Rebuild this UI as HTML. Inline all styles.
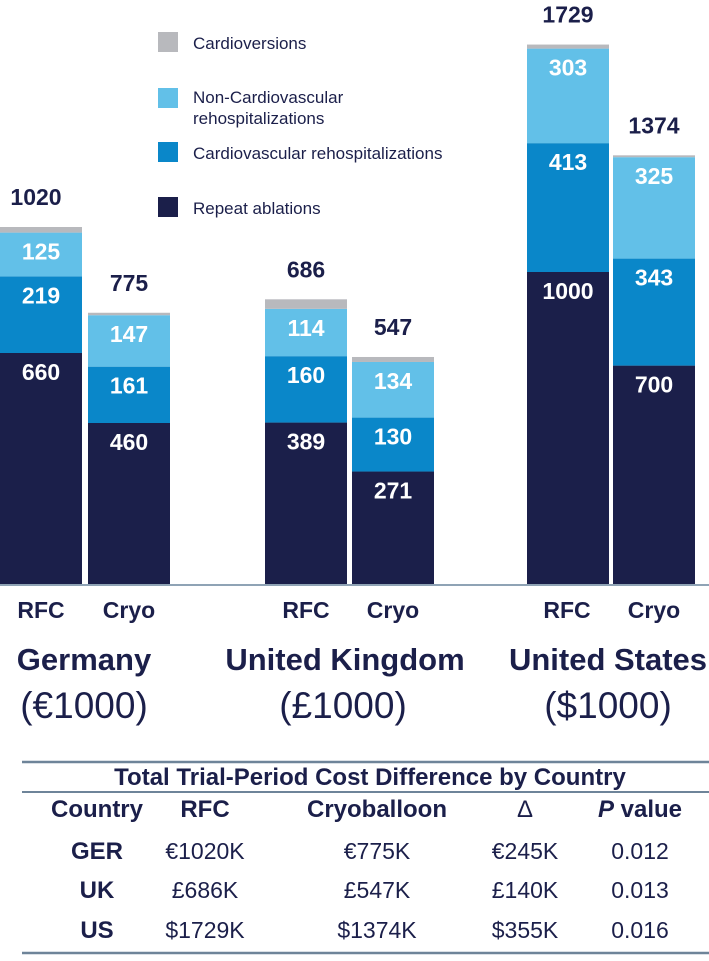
<!DOCTYPE html>
<html><head><meta charset="utf-8"><style>
body{margin:0;width:709px;height:956px;background:#fff;overflow:hidden;font-family:"Liberation Sans",sans-serif}
svg text{font-family:"Liberation Sans",sans-serif}
</style></head><body>
<svg id="c" width="709" height="956">
<g id="legend">
<rect x="158" y="32" width="20" height="20" fill="#b8b9bd"/>
<text x="193" y="49" font-size="17" fill="#1b1f4a">Cardioversions</text>
<rect x="158" y="88" width="20" height="20" fill="#62c0e8"/>
<text x="193" y="103" font-size="17" fill="#1b1f4a">Non-Cardiovascular</text>
<text x="193" y="124" font-size="17" fill="#1b1f4a">rehospitalizations</text>
<rect x="158" y="142" width="20" height="20" fill="#0a87c9"/>
<text x="193" y="159" font-size="17" fill="#1b1f4a">Cardiovascular rehospitalizations</text>
<rect x="158" y="197" width="20" height="20" fill="#1b1f4a"/>
<text x="193" y="214" font-size="17" fill="#1b1f4a">Repeat ablations</text>
</g>
<g id="bars"></g>
<line x1="0" y1="585" x2="709" y2="585" stroke="#8fa3b5" stroke-width="2"/>
<g font-weight="bold" font-size="23" fill="#1b1f4a" text-anchor="middle">
<text x="41" y="618">RFC</text>
<text x="129" y="618">Cryo</text>
<text x="306" y="618">RFC</text>
<text x="393" y="618">Cryo</text>
<text x="567" y="618">RFC</text>
<text x="654" y="618">Cryo</text>
</g>
<g font-weight="bold" font-size="31" fill="#1b1f4a" text-anchor="middle">
<text x="84" y="670">Germany</text>
<text x="345" y="670">United Kingdom</text>
<text x="608" y="670">United States</text>
</g>
<g font-size="37" fill="#1b1f4a" text-anchor="middle">
<text x="84" y="718">(€1000)</text>
<text x="343" y="718">(£1000)</text>
<text x="608" y="718">($1000)</text>
</g>
<g fill="#1b1f4a" text-anchor="middle" font-size="23">
<line x1="22" y1="762" x2="709" y2="762" stroke="#6e8499" stroke-width="2.5"/>
<text x="370" y="785" font-weight="bold" font-size="24">Total Trial-Period Cost Difference by Country</text>
<line x1="22" y1="792" x2="709" y2="792" stroke="#6e8499" stroke-width="2"/>
<g font-weight="bold" font-size="24">
<text x="97" y="817">Country</text>
<text x="205" y="817">RFC</text>
<text x="377" y="817">Cryoballoon</text>
<text x="525" y="817" font-weight="normal" font-family="Liberation Serif">Δ</text>
<text x="640" y="817"><tspan font-style="italic">P</tspan> value</text>
</g>
<text x="97" y="859" font-weight="bold" font-size="24">GER</text><text x="205" y="859">€1020K</text><text x="377" y="859">€775K</text><text x="525" y="859">€245K</text><text x="640" y="859">0.012</text>
<text x="97" y="898" font-weight="bold" font-size="24">UK</text><text x="205" y="898">£686K</text><text x="377" y="898">£547K</text><text x="525" y="898">£140K</text><text x="640" y="898">0.013</text>
<text x="97" y="938" font-weight="bold" font-size="24">US</text><text x="205" y="938">$1729K</text><text x="377" y="938">$1374K</text><text x="525" y="938">$355K</text><text x="640" y="938">0.016</text>
<line x1="22" y1="953" x2="709" y2="953" stroke="#6e8499" stroke-width="2.5"/>
</g>
</svg>
<script>
const categories = ["GER-RFC","GER-Cryo","UK-RFC","UK-Cryo","US-RFC","US-Cryo"];
const ablations = [660,460,389,271,1000,700];
const cvRehosp = [219,161,160,130,413,343];
const nonCvRehosp = [125,147,114,134,303,325];
const totals = [1020,775,686,547,1729,1374];
const countryOf = [0,0,1,1,2,2];
const countryScale = [0.35,0.415,0.312]; // px per unit per country panel
const barX = [0,88,265,352,527,613], barW = 82, base = 584;
const colors = ["#1b1f4a","#0a87c9","#62c0e8","#b8b9bd"];
const g = document.getElementById('bars');
const NS = "http://www.w3.org/2000/svg";
function y(v,i){return base - v*countryScale[countryOf[i]];}
categories.forEach((cat,i)=>{
  const cardio = totals[i]-ablations[i]-cvRehosp[i]-nonCvRehosp[i];
  const segs=[ablations[i],cvRehosp[i],nonCvRehosp[i],cardio];
  let cum=0;
  segs.forEach((v,k)=>{
    const r=document.createElementNS(NS,'rect');
    r.setAttribute('x',barX[i]);r.setAttribute('width',barW);
    r.setAttribute('y',y(cum+v,i));r.setAttribute('height',y(cum,i)-y(cum+v,i));
    r.setAttribute('fill',colors[k]);
    
    
    g.appendChild(r);
    if(k<3){
      const t=document.createElementNS(NS,'text');
      t.setAttribute('x',barX[i]+barW/2);t.setAttribute('y',y(cum+v,i)+27);
      t.setAttribute('text-anchor','middle');t.setAttribute('fill','#fff');
      t.setAttribute('font-weight','bold');t.setAttribute('font-size','23');
      t.textContent=v;
      
      
      g.appendChild(t);
    }
    cum+=v;
  });
  const t=document.createElementNS(NS,'text');
  t.setAttribute('x',barX[i]+barW/2 - (i===0?5:0));t.setAttribute('y',y(totals[i],i)-22);
  t.setAttribute('text-anchor','middle');t.setAttribute('fill','#1b1f4a');
  t.setAttribute('font-weight','bold');t.setAttribute('font-size','23');
  t.textContent=totals[i];
  
  
  g.appendChild(t);
});
</script>
</body></html>
